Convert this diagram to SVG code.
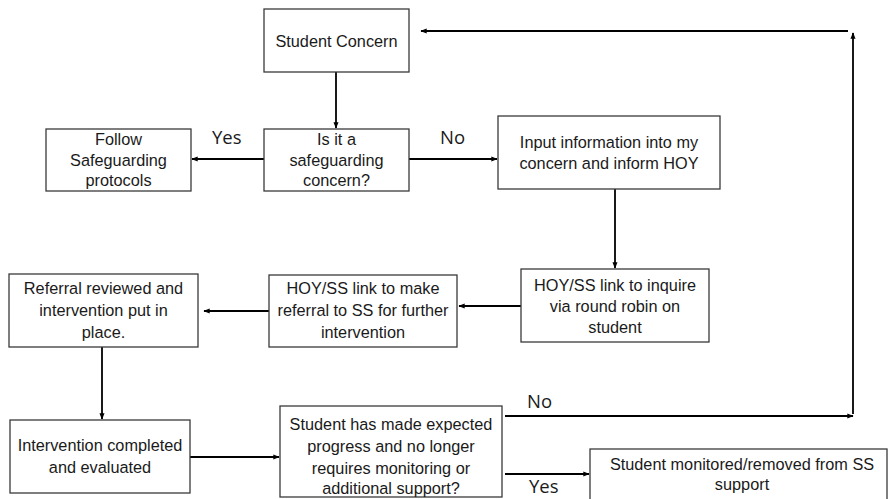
<svg xmlns="http://www.w3.org/2000/svg" width="888" height="499" viewBox="0 0 888 499">
<style>
.box{fill:#fff;stroke:#3a3a3a;stroke-width:1.3}
.t{font-family:"Liberation Sans",Arial,sans-serif;font-size:16.3px;fill:#1a1a1a;text-anchor:middle}
.lbl{font-family:"Open Sans","Liberation Sans",sans-serif;font-size:18.5px;fill:#1a1a1a}
.c{stroke:#000;stroke-width:1.8;fill:none;marker-end:url(#ah)}
</style>
<defs>
<marker id="ah" viewBox="0 0 10 10" refX="9" refY="5" markerWidth="3.5" markerHeight="3.5" orient="auto" markerUnits="strokeWidth">
<path d="M0,1 L10,5 L0,9 z" fill="#000"/>
</marker>
</defs>
<rect width="888" height="499" fill="#fff"/>
<g id="connectors">
<line class="c" x1="336" y1="72" x2="336" y2="128"/>
<line class="c" x1="264" y1="159" x2="192" y2="159"/>
<line class="c" x1="409" y1="159" x2="497" y2="159"/>
<line class="c" x1="615" y1="189" x2="615" y2="268"/>
<line class="c" x1="521" y1="306" x2="459" y2="306"/>
<line class="c" x1="269" y1="311" x2="204" y2="311"/>
<line class="c" x1="102" y1="347" x2="102" y2="419"/>
<line class="c" x1="190" y1="457" x2="279" y2="457"/>
<line class="c" x1="505" y1="416" x2="853" y2="416"/>
<line class="c" x1="853" y1="414" x2="853" y2="33"/>
<line class="c" x1="848" y1="31" x2="421" y2="31"/>
<line class="c" x1="505" y1="474" x2="589" y2="474"/>
<text class="lbl" x="212" y="144">Yes</text>
<text class="lbl" x="440" y="144">No</text>
<text class="lbl" x="527" y="408">No</text>
<text class="lbl" x="529" y="493">Yes</text>
</g>
<g id="student-concern">
<rect class="box" x="264" y="9" width="145" height="63"/>
<text class="t" x="336.5" y="47">Student Concern</text>
</g>
<g id="follow-safeguarding">
<rect class="box" x="46" y="129" width="145" height="62"/>
<text class="t" x="118.5" y="145">Follow</text>
<text class="t" x="118.5" y="166">Safeguarding</text>
<text class="t" x="118.5" y="186">protocols</text>
</g>
<g id="is-safeguarding">
<rect class="box" x="264" y="129" width="145" height="62"/>
<text class="t" x="336.5" y="145">Is it a</text>
<text class="t" x="336.5" y="166">safeguarding</text>
<text class="t" x="336.5" y="186">concern?</text>
</g>
<g id="input-info">
<rect class="box" x="498" y="116" width="222" height="73"/>
<text class="t" x="609" y="148">Input information into my</text>
<text class="t" x="609" y="169">concern and inform HOY</text>
</g>
<g id="hoy-inquire">
<rect class="box" x="521" y="269" width="188" height="73"/>
<text class="t" x="615" y="291">HOY/SS link to inquire</text>
<text class="t" x="615" y="312">via round robin on</text>
<text class="t" x="615" y="333">student</text>
</g>
<g id="hoy-referral">
<rect class="box" x="269" y="275" width="188" height="72"/>
<text class="t" x="363" y="294">HOY/SS link to make</text>
<text class="t" x="363" y="316">referral to SS for further</text>
<text class="t" x="363" y="338">intervention</text>
</g>
<g id="referral-reviewed">
<rect class="box" x="9" y="274" width="189" height="73"/>
<text class="t" x="103.5" y="294">Referral reviewed and</text>
<text class="t" x="103.5" y="316">intervention put in</text>
<text class="t" x="103.5" y="338">place.</text>
</g>
<g id="intervention-completed">
<rect class="box" x="10" y="420" width="180" height="73"/>
<text class="t" x="100" y="451">Intervention completed</text>
<text class="t" x="100" y="473">and evaluated</text>
</g>
<g id="progress-check">
<rect class="box" x="280" y="406" width="222" height="91"/>
<text class="t" x="391" y="430">Student has made expected</text>
<text class="t" x="391" y="452">progress and no longer</text>
<text class="t" x="391" y="474">requires monitoring or</text>
<text class="t" x="391" y="494">additional support?</text>
</g>
<g id="monitored-removed">
<rect class="box" x="590" y="449" width="297" height="60"/>
<text class="t" x="742" y="470">Student monitored/removed from SS</text>
<text class="t" x="742" y="490">support</text>
</g>
</svg>
